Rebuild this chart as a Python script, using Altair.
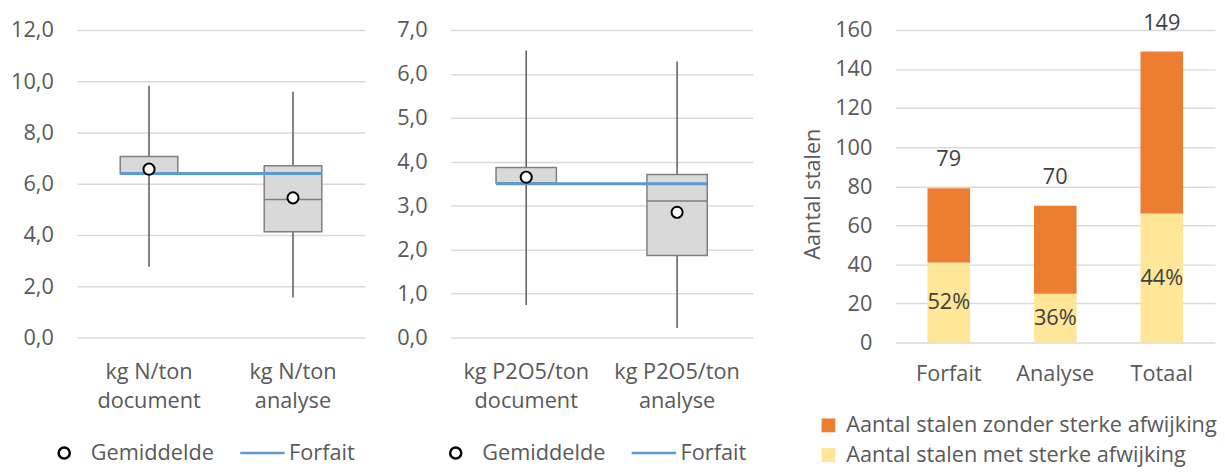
import altair as alt
import pandas as pd

FONT = "Open Sans"
TXT = "#595959"
DARK = "#404040"

# ---------------- data ----------------
n_labels = ["kg N/ton\ndocument", "kg N/ton\nanalyse"]
n_min = [2.76, 1.56]
n_q1 = [6.40, 4.13]
n_median = [6.40, 5.39]
n_q3 = [7.06, 6.70]
n_max = [9.82, 9.59]
n_mean = [6.57, 5.45]
n_forfait = 6.40

p_labels = ["kg P2O5/ton\ndocument", "kg P2O5/ton\nanalyse"]
p_min = [0.74, 0.22]
p_q1 = [3.52, 1.87]
p_median = [3.52, 3.11]
p_q3 = [3.87, 3.71]
p_max = [6.53, 6.28]
p_mean = [3.65, 2.85]
p_forfait = 3.50

bar_cats = ["Forfait", "Analyse", "Totaal"]
met = [41, 25, 66]
zonder = [38, 45, 83]

series_mean = "Gemiddelde"
series_forfait = "Forfait"
series_zonder = "Aantal stalen zonder sterke afwijking"
series_met = "Aantal stalen met sterke afwijking"

CIRCLE_PATH = "M0.25,0A0.25,0.25,0,1,1,-0.25,0A0.25,0.25,0,1,1,0.25,0Z"
LINE_PATH = "M-1,0L1,0"


def box_panel(labels, mins, q1, med, q3, maxs, means, forfait, ymax, width, legend_x):
    box_df = pd.DataFrame({"cat": labels, "min": mins, "q1": q1, "med": med,
                           "q3": q3, "max": maxs})
    mean_df = pd.DataFrame({"cat": labels, "mean": means,
                            "series": [series_mean] * len(labels)})
    forf_df = pd.DataFrame({"cat": [labels[0]], "cat2": [labels[-1]],
                            "value": [forfait], "series": [series_forfait]})

    xscale = alt.Scale(domain=labels, paddingInner=0.6, paddingOuter=0.3)
    yscale = alt.Scale(domain=[0, ymax], nice=False)
    xaxis = alt.Axis(title=None, labelExpr="split(datum.label, '\\n')", labelAngle=0,
                     labelLineHeight=30, labelPadding=24, grid=False)
    yaxis = alt.Axis(title=None, values=list(range(0, ymax + 1, 2 if ymax > 8 else 1)),
                     labelExpr="replace(format(datum.value, '.1f'), '.', ',')",
                     labelPadding=24)
    cscale = alt.Scale(domain=[series_mean, series_forfait], range=["#000000", "#5B9BD5"])
    sscale = alt.Scale(domain=[series_mean, series_forfait], range=[CIRCLE_PATH, LINE_PATH])
    legend = alt.Legend(title=None, orient="none", legendX=legend_x, legendY=405,
                        direction="horizontal", symbolSize=2025, symbolStrokeWidth=2.5,
                        symbolOpacity=1, labelFontSize=22, labelColor=TXT, labelFont=FONT,
                        labelOffset=3, columnPadding=21, padding=0)

    x = alt.X("cat:N", scale=xscale, axis=xaxis, sort=labels)
    whisker = alt.Chart(box_df).mark_rule(color="#595959", strokeWidth=1.5).encode(
        x=x, y=alt.Y("min:Q", scale=yscale, axis=yaxis), y2="max:Q")
    box = alt.Chart(box_df).mark_bar(fill="#D9D9D9", stroke="#7F7F7F", strokeWidth=1.5).encode(
        x=x, y=alt.Y("q1:Q", scale=yscale, axis=yaxis), y2="q3:Q")
    median = alt.Chart(box_df).mark_bar(fillOpacity=0, stroke="#7F7F7F", strokeWidth=1.5).encode(
        x=x, y=alt.Y("med:Q", scale=yscale, axis=yaxis), y2="med:Q")
    forf = alt.Chart(forf_df).mark_rule(strokeWidth=3).encode(
        x=alt.X("cat:N", scale=xscale, axis=xaxis, sort=labels, bandPosition=0),
        x2=alt.X2("cat2:N", bandPosition=1),
        y=alt.Y("value:Q", scale=yscale, axis=yaxis),
        color=alt.Color("series:N", scale=cscale, legend=legend))
    mean = alt.Chart(mean_df).mark_point(filled=False, fill="white", strokeWidth=2,
                                         size=2025, opacity=1).encode(
        x=x, y=alt.Y("mean:Q", scale=yscale, axis=yaxis),
        color=alt.Color("series:N", scale=cscale, legend=legend),
        shape=alt.Shape("series:N", scale=sscale, legend=legend))
    return alt.layer(whisker, box, median, forf, mean).properties(
        width=width, height=312,
        title=alt.TitleParams(" ", fontSize=1, offset=0))


p1 = box_panel(n_labels, n_min, n_q1, n_median, n_q3, n_max, n_mean, n_forfait,
               12, 292, -37)
p2 = box_panel(p_labels, p_min, p_q1, p_median, p_q3, p_max, p_mean, p_forfait,
               7, 306, -19)

# ---------------- stacked bars ----------------
bar_df = pd.DataFrame({
    "cat": bar_cats * 2,
    "series": [series_met] * 3 + [series_zonder] * 3,
    "value": met + zonder,
    "stack_order": [0] * 3 + [1] * 3,
})
tot_df = pd.DataFrame({"cat": bar_cats, "met": met, "zonder": zonder})

bx = alt.X("cat:N", sort=bar_cats,
           scale=alt.Scale(domain=bar_cats, paddingInner=0.6, paddingOuter=0.3),
           axis=alt.Axis(title=None, labelAngle=0, labelPadding=22, grid=False))
by_scale = alt.Scale(domain=[0, 160], nice=False)
by_axis = alt.Axis(title="Aantal stalen", values=list(range(0, 161, 20)), labelPadding=24,
                   titlePadding=10, titleFontSize=22, titleFontWeight="normal",
                   titleColor=TXT, titleY=166)

bars = alt.Chart(bar_df).mark_bar().encode(
    x=bx,
    y=alt.Y("value:Q", stack="zero", scale=by_scale, axis=by_axis),
    color=alt.Color("series:N",
                    scale=alt.Scale(domain=[series_zonder, series_met],
                                    range=["#ED7D31", "#FFE699"]),
                    legend=alt.Legend(title=None, orient="none", legendX=-79, legendY=390,
                                      direction="vertical", symbolType="square",
                                      symbolSize=196, symbolStrokeWidth=0,
                                      labelFontSize=22, labelColor=TXT, labelOffset=7,
                                      rowPadding=8, labelLimit=600, padding=0)),
    order=alt.Order("stack_order:Q"),
)
tot_base = alt.Chart(tot_df).transform_calculate(
    total="datum.met + datum.zonder",
    mid="datum.met / 2",
    pct="format(datum.met / (datum.met + datum.zonder), '.0%')",
)
tot_text = tot_base.mark_text(dy=-29, baseline="middle", fontSize=22, color=DARK).encode(
    x=bx, y=alt.Y("total:Q", scale=by_scale, axis=by_axis), text="total:Q")
pct_text = tot_base.mark_text(baseline="middle", fontSize=22, color=DARK).encode(
    x=bx, y=alt.Y("mid:Q", scale=by_scale, axis=by_axis), text="pct:N")

p3 = alt.layer(bars, tot_text, pct_text).properties(width=324, height=317)

inner = alt.hconcat(p1, p2, spacing=32).resolve_scale(
    color="independent", shape="independent", x="independent", y="independent")
chart = alt.hconcat(inner, p3, spacing=50).resolve_scale(
    color="independent", shape="independent", x="independent", y="independent"
).properties(
    padding={"left": 2, "top": 0, "right": 0, "bottom": 0}
).configure(font=FONT).configure_view(stroke=None).configure_axis(
    labelFont=FONT, labelFontSize=22, labelColor=TXT, titleFont=FONT,
    domain=False, ticks=False, gridColor="#D9D9D9", gridWidth=1.5,
).configure_title(font=FONT)

chart.save("out.html", embed_options={"renderer": "svg", "actions": False})
